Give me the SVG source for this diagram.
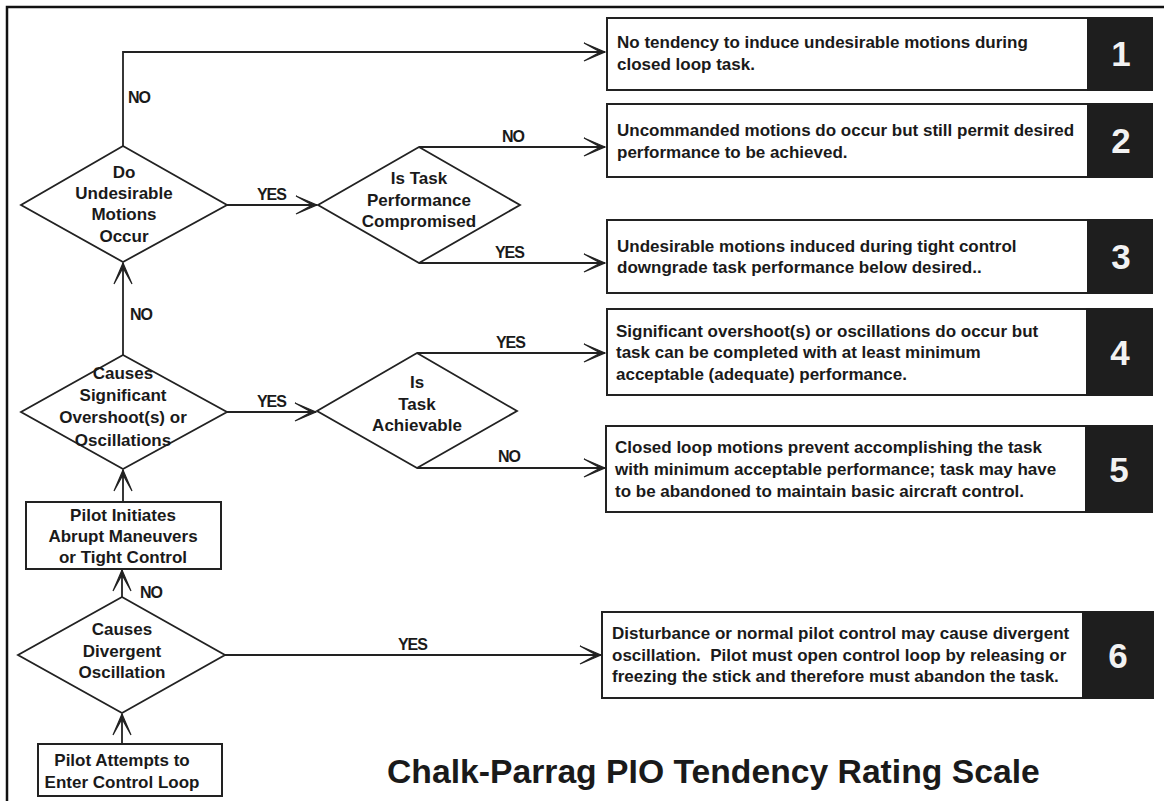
<svg xmlns="http://www.w3.org/2000/svg" width="1164" height="801" viewBox="0 0 1164 801">
  <style>
    .frame { fill: none; stroke: #111; stroke-width: 2.5; }
    .shape { fill: #fff; stroke: #222; stroke-width: 1.8; }
    .box { fill: #fff; stroke: #222; stroke-width: 2; }
    .rank { fill: #1e1e1e; stroke: #1e1e1e; stroke-width: 2; }
    .wire { fill: none; stroke: #222; stroke-width: 1.8; }
    .q { font-family: "Liberation Sans", Arial, sans-serif; font-weight: bold; font-size: 17px; fill: #1a1a1a; text-anchor: middle; }
    .lbl { font-family: "Liberation Sans", Arial, sans-serif; font-weight: bold; font-size: 16px; letter-spacing: -1.1px; fill: #1a1a1a; }
    .desc { font-family: "Liberation Sans", Arial, sans-serif; font-weight: bold; font-size: 17px; fill: #1a1a1a; }
    .num { font-family: "Liberation Sans", Arial, sans-serif; font-weight: bold; font-size: 35px; fill: #f2f2f2; text-anchor: middle; }
    .title { font-family: "Liberation Sans", Arial, sans-serif; font-weight: bold; font-size: 33.7px; fill: #1a1a1a; }
  </style>
  <defs>
    <marker id="arrow" viewBox="-22 -11 24 22" refX="0" refY="0" markerWidth="24" markerHeight="22" markerUnits="userSpaceOnUse" orient="auto">
      <path d="M0 0 L-21 -9 L-7 -1.2 L-7 1.2 L-21 9 Z" fill="#222" stroke="#222" stroke-width="1.2" stroke-linejoin="miter"/>
    </marker>
  </defs>

  <rect width="1164" height="801" fill="#fff"/>
  <!-- outer frame: top and left edges -->
  <path class="frame" d="M7 801 V7 H1164"/>

  <!-- connectors -->
  <g id="connectors">
    <path class="wire" d="M123 146 V52 H605" marker-end="url(#arrow)"/>
    <path class="wire" d="M227 205 H317" marker-end="url(#arrow)"/>
    <path class="wire" d="M419 147 H605" marker-end="url(#arrow)"/>
    <path class="wire" d="M419 263 H605" marker-end="url(#arrow)"/>
    <path class="wire" d="M123 355 V263" marker-end="url(#arrow)"/>
    <path class="wire" d="M227 412 H316" marker-end="url(#arrow)"/>
    <path class="wire" d="M417 353 H605" marker-end="url(#arrow)"/>
    <path class="wire" d="M417 468 H605" marker-end="url(#arrow)"/>
    <path class="wire" d="M123 502 V470" marker-end="url(#arrow)"/>
    <path class="wire" d="M122 597 V570" marker-end="url(#arrow)"/>
    <path class="wire" d="M225 655 H601" marker-end="url(#arrow)"/>
    <path class="wire" d="M122 744 V714" marker-end="url(#arrow)"/>
    <text class="lbl" x="128" y="103">NO</text>
    <text class="lbl" x="257" y="200">YES</text>
    <text class="lbl" x="502" y="142">NO</text>
    <text class="lbl" x="495" y="258">YES</text>
    <text class="lbl" x="130" y="320">NO</text>
    <text class="lbl" x="257" y="407">YES</text>
    <text class="lbl" x="496" y="348">YES</text>
    <text class="lbl" x="498" y="462">NO</text>
    <text class="lbl" x="140" y="598">NO</text>
    <text class="lbl" x="398" y="650">YES</text>
  </g>

  <!-- decision: undesirable motions -->
  <g id="d-motions">
    <polygon class="shape" points="123,146 227,205 123,262 21,205"/>
    <text class="q" x="124" y="178">Do</text>
    <text class="q" x="124" y="199">Undesirable</text>
    <text class="q" x="124" y="220">Motions</text>
    <text class="q" x="124" y="242">Occur</text>
  </g>

  <!-- decision: performance compromised -->
  <g id="d-compromised">
    <polygon class="shape" points="419,147 520,205 419,263 318,205"/>
    <text class="q" x="419" y="184">Is Task</text>
    <text class="q" x="419" y="205.5">Performance</text>
    <text class="q" x="419" y="227">Compromised</text>
  </g>

  <!-- decision: overshoots / oscillations -->
  <g id="d-overshoot">
    <polygon class="shape" points="123,355 227,412 123,469 21,412"/>
    <text class="q" x="123" y="379">Causes</text>
    <text class="q" x="123" y="401">Significant</text>
    <text class="q" x="123" y="423">Overshoot(s) or</text>
    <text class="q" x="123" y="446">Oscillations</text>
  </g>

  <!-- decision: task achievable -->
  <g id="d-achievable">
    <polygon class="shape" points="417,353 517,411 417,468 317,411"/>
    <text class="q" x="417" y="388">Is</text>
    <text class="q" x="417" y="409.5">Task</text>
    <text class="q" x="417" y="431">Achievable</text>
  </g>

  <!-- process: abrupt maneuvers -->
  <g id="p-abrupt">
    <rect class="box" x="26" y="502" width="195" height="67"/>
    <text class="q" x="123" y="521">Pilot Initiates</text>
    <text class="q" x="123" y="542">Abrupt Maneuvers</text>
    <text class="q" x="123" y="563">or Tight Control</text>
  </g>

  <!-- decision: divergent oscillation -->
  <g id="d-divergent">
    <polygon class="shape" points="122,597 225,655 122,713 18,655"/>
    <text class="q" x="122" y="635">Causes</text>
    <text class="q" x="122" y="657">Divergent</text>
    <text class="q" x="122" y="678">Oscillation</text>
  </g>

  <!-- start: enter control loop -->
  <g id="p-start">
    <rect class="box" x="38" y="744" width="184" height="52"/>
    <text class="q" x="122" y="766">Pilot Attempts to</text>
    <text class="q" x="122" y="788">Enter Control Loop</text>
  </g>

  <!-- rating outcomes -->
  <g id="r1">
    <rect class="box" x="607" y="18" width="481" height="72"/>
    <rect class="rank" x="1088" y="18" width="64" height="72"/>
    <text class="desc" x="617" y="48">No tendency to induce undesirable motions during</text>
    <text class="desc" x="617" y="70">closed loop task.</text>
    <text class="num" x="1121" y="66">1</text>
  </g>
  <g id="r2">
    <rect class="box" x="607" y="104" width="481" height="73"/>
    <rect class="rank" x="1088" y="104" width="64" height="73"/>
    <text class="desc" x="617" y="136">Uncommanded motions do occur but still permit desired</text>
    <text class="desc" x="617" y="158">performance to be achieved.</text>
    <text class="num" x="1121" y="153">2</text>
  </g>
  <g id="r3">
    <rect class="box" x="607" y="220" width="481" height="73"/>
    <rect class="rank" x="1088" y="220" width="64" height="73"/>
    <text class="desc" x="617" y="252">Undesirable motions induced during tight control</text>
    <text class="desc" x="617" y="273">downgrade task performance below desired..</text>
    <text class="num" x="1121" y="269">3</text>
  </g>
  <g id="r4">
    <rect class="box" x="607" y="309" width="480" height="86"/>
    <rect class="rank" x="1087" y="309" width="65" height="86"/>
    <text class="desc" x="616" y="337">Significant overshoot(s) or oscillations do occur but</text>
    <text class="desc" x="616" y="358">task can be completed with at least minimum</text>
    <text class="desc" x="616" y="380">acceptable (adequate) performance.</text>
    <text class="num" x="1120" y="365">4</text>
  </g>
  <g id="r5">
    <rect class="box" x="606" y="426" width="480" height="86"/>
    <rect class="rank" x="1086" y="426" width="66" height="86"/>
    <text class="desc" x="615" y="453">Closed loop motions prevent accomplishing the task</text>
    <text class="desc" x="615" y="475">with minimum acceptable performance; task may have</text>
    <text class="desc" x="615" y="497">to be abandoned to maintain basic aircraft control.</text>
    <text class="num" x="1119" y="482">5</text>
  </g>
  <g id="r6">
    <rect class="box" x="602" y="612" width="481" height="86"/>
    <rect class="rank" x="1083" y="612" width="70" height="86"/>
    <text class="desc" x="612" y="639">Disturbance or normal pilot control may cause divergent</text>
    <text class="desc" x="612" y="661" xml:space="preserve">oscillation.  Pilot must open control loop by releasing or</text>
    <text class="desc" x="612" y="682">freezing the stick and therefore must abandon the task.</text>
    <text class="num" x="1118" y="668">6</text>
  </g>

  <text class="title" x="387" y="783">Chalk-Parrag PIO Tendency Rating Scale</text>
</svg>
